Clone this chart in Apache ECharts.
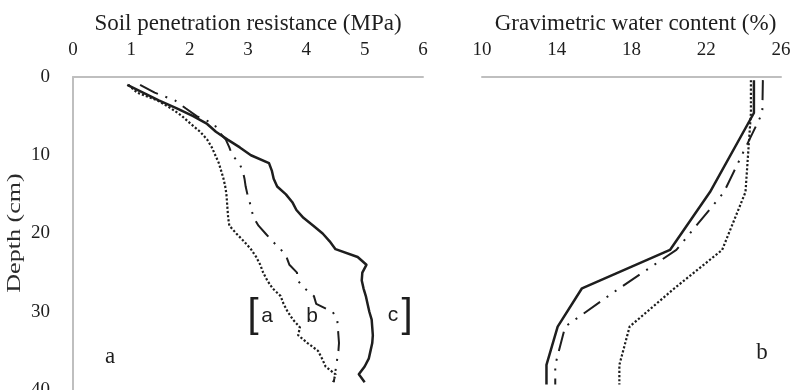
<!DOCTYPE html>
<html>
<head>
<meta charset="utf-8">
<script src="https://cdn.jsdelivr.net/npm/echarts@6/dist/echarts.min.js"></script>
<style>
  html, body { margin: 0; padding: 0; background: #fff; }
  #chart { width: 792px; height: 390px; }
</style>
</head>
<body>
<div id="chart"></div>
<script>
// depth (cm) for the penetration profiles
const penDepth = [1, 2, 3, 4, 5, 6, 7, 8, 9, 10, 11, 12, 13, 14, 15, 16, 17, 18, 19, 20,
                  21, 22, 23, 24, 25, 26, 27, 28, 29, 30, 31, 32, 33, 34, 35, 36, 37, 38, 39]
// soil penetration resistance (MPa)
const penA = [0.95, 1.1, 1.45, 1.68, 1.87, 2.02, 2.18, 2.3, 2.38, 2.44, 2.5, 2.54, 2.58, 2.61, 2.63, 2.64, 2.65, 2.66, 2.68, 2.8,
              2.93, 3.05, 3.14, 3.21, 3.26, 3.33, 3.42, 3.56, 3.61, 3.68, 3.77, 3.89, 3.86, 4.02, 4.2, 4.27, 4.33, 4.5, 4.46]
const penB = [1.15, 1.4, 1.75, 1.93, 2.12, 2.42, 2.5, 2.62, 2.68, 2.73, 2.85, 2.91, 2.94, 2.96, 2.99, 3.03, 3.06, 3.1, 3.18, 3.3,
              3.42, 3.56, 3.66, 3.71, 3.84, 3.85, 3.97, 4.13, 4.17, 4.45, 4.53, 4.54, 4.55, 4.56, 4.55, 4.53, 4.51, 4.49, 4.47]
const penC = [0.93, 1.2, 1.47, 1.78, 2.06, 2.3, 2.45, 2.65, 2.86, 3.05, 3.36, 3.41, 3.44, 3.5, 3.65, 3.76, 3.83, 3.95, 4.12, 4.28,
              4.4, 4.5, 4.88, 5.03, 4.96, 4.95, 4.98, 5.02, 5.05, 5.08, 5.12, 5.13, 5.14, 5.13, 5.1, 5.07, 5.0, 4.9, 5.0]

// gravimetric water content (%)
const waterDepth = [0.4, 4.6, 14.7, 22.1, 27, 31.9, 36.8, 39.3]
const waterA = [24.39, 24.39, 24.1, 22.85, 20.3, 17.9, 17.35, 17.35]
const waterB = [25.03, 25.0, 22.95, 20.4, 17.35, 14.45, 13.92, 13.92]
const waterC = [24.55, 24.55, 22.2, 20.06, 15.35, 14.05, 13.45, 13.45]

const penTicks = [0, 6, 1]
const waterTicks = [10, 26, 4]
const depthTicks = [0, 40, 10]

const serif = 'Liberation Serif'
const sans = 'Liberation Sans'
const ink = '#1e1e1e'
const axisGrey = '#bfbfbf'
const dashDot = [20, 8, 2, 8, 2, 8]
const dots = [2.2, 2]

function pairs(xs, ys) {
    return xs.map((x, i) => [x, ys[i]])
}

function profile(name, xi, xs, ys, type, width) {
    return {
        name: name,
        type: 'line',
        xAxisIndex: xi,
        yAxisIndex: xi,
        data: pairs(xs, ys),
        symbol: 'none',
        silent: true,
        lineStyle: { color: ink, width: width, type: type, cap: 'butt', join: 'round' }
    }
}

function label(text, x, y, font) {
    return { type: 'text', x: x, y: y, style: { text: text, font: font, fill: ink, align: 'center', verticalAlign: 'middle' } }
}

const topAxis = {
    type: 'value',
    position: 'top',
    nameLocation: 'middle',
    nameGap: 42,
    axisLine: { show: true, lineStyle: { color: axisGrey, width: 2 } },
    axisTick: { show: false },
    axisLabel: { fontFamily: serif, fontSize: 19, color: ink, margin: 17 },
    splitLine: { show: false }
}

const chart = echarts.init(document.getElementById('chart'), null, { renderer: 'canvas' })

chart.setOption({
    animation: false,
    textStyle: { fontFamily: serif },
    grid: [
        { left: 73, top: 77, width: 350, height: 313, outerBoundsMode: 'none' },
        { left: 482, top: 77, width: 299, height: 313, outerBoundsMode: 'none' }
    ],
    xAxis: [
        Object.assign({}, topAxis, {
            gridIndex: 0,
            min: penTicks[0], max: penTicks[1], interval: penTicks[2],
            name: 'Soil penetration resistance (MPa)',
            nameTextStyle: { fontFamily: serif, fontSize: 23, color: ink }
        }),
        Object.assign({}, topAxis, {
            gridIndex: 1,
            min: waterTicks[0], max: waterTicks[1], interval: waterTicks[2],
            name: 'Gravimetric water content (%)',
            nameTextStyle: { fontFamily: serif, fontSize: 23, color: ink, padding: [0, 0, 0, 8] }
        })
    ],
    yAxis: [
        {
            gridIndex: 0,
            type: 'value',
            inverse: true,
            min: depthTicks[0], max: depthTicks[1], interval: depthTicks[2],
            axisLine: { show: true, lineStyle: { color: axisGrey, width: 2 } },
            axisTick: { show: false },
            axisLabel: { fontFamily: serif, fontSize: 19, color: ink, margin: 23 },
            splitLine: { show: false }
        },
        {
            gridIndex: 1,
            type: 'value',
            inverse: true,
            min: depthTicks[0], max: depthTicks[1], interval: depthTicks[2],
            axisLine: { show: false },
            axisTick: { show: false },
            axisLabel: { show: false },
            splitLine: { show: false }
        }
    ],
    series: [
        profile('a', 0, penA, penDepth, dots, 2.2),
        profile('b', 0, penB, penDepth, dashDot, 2),
        profile('c', 0, penC, penDepth, 'solid', 2.5),
        profile('a', 1, waterA, waterDepth, dots, 2.2),
        profile('b', 1, waterB, waterDepth, dashDot, 2),
        profile('c', 1, waterC, waterDepth, 'solid', 2.5)
    ],
    graphic: [
        // y axis title, stretched along its length like the original
        {
            type: 'text', x: 15, y: 233, rotation: Math.PI / 2, scaleX: 1.45,
            style: { text: 'Depth (cm)', font: '18px ' + serif, fill: '#2a2a2a', align: 'center', verticalAlign: 'middle' }
        },
        // panel letters
        label('a', 110, 357, '23px ' + serif),
        label('b', 762, 353, '23px ' + serif),
        // treatment key
        label('[', 253, 316, '40px ' + sans),
        label('a', 267, 316, '21px ' + sans),
        label('b', 312, 316, '21px ' + sans),
        label('c', 393, 315, '21px ' + sans),
        label(']', 407, 316, '40px ' + sans)
    ]
})
</script>
</body>
</html>
